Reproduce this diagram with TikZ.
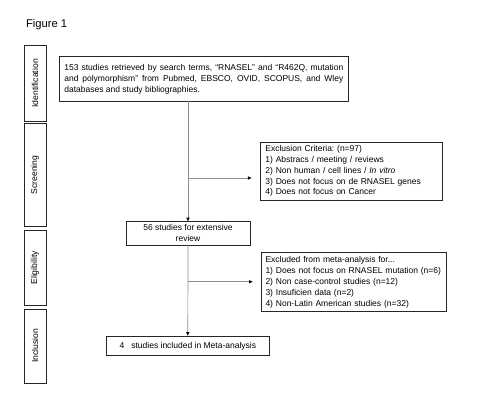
\documentclass[tikz,border=0pt]{standalone}
\usepackage{fontspec}
\setmainfont{Liberation Sans}
\usetikzlibrary{arrows.meta}
\frenchspacing
\begin{document}
\begin{tikzpicture}[x=1pt,y=-1pt,
  every node/.style={inner sep=0pt,outer sep=0pt},
  flowbox/.style={draw=black!85,line width=0.8pt,font=\fontsize{8.5}{10.8}\selectfont},
  sidebox/.style={draw=black!85,line width=0.8pt,minimum height=22pt,font=\fontsize{8.6}{10.8}\selectfont,rotate=90},
  conn/.style={draw=black!45,line width=0.7pt,-{Latex[length=4pt,width=3.6pt,color=black]}}]
\useasboundingbox (0,0) rectangle (500,400);
\node[anchor=west,font=\fontsize{11.2}{13}\selectfont] (fig) at (26,25) {Figure 1};
% side labels
\node[sidebox,minimum width=75.5pt] at (35,83.3) (sid) {Identification};
\node[sidebox,minimum width=103pt] at (35,175) (sscr) {Screening};
\node[sidebox,minimum width=74.3pt] at (35,267.9) (selg) {Eligibility};
\node[sidebox,minimum width=74pt] at (35,346) (sinc) {Inclusion};
% main boxes
\node[flowbox,text width=279pt,inner xsep=5pt,minimum height=44.5pt,align=justify] (b1) at (203.8,79)
  {153 studies retrieved by search terms, “RNASEL” and “R462Q, mutation and polymorphism” from Pubmed, EBSCO, OVID, SCOPUS, and Wley databases and study bibliographies.};
\node[flowbox,text width=172pt,inner xsep=5pt,minimum height=58pt,align=left] (ex) at (351.4,171)
  {Exclusion Criteria: (n=97)\\1) Abstracs / meeting / reviews\\2) Non human / cell lines / \textit{In vitro}\\3) Does not focus on de RNASEL genes\\4) Does not focus on Cancer};
\node[flowbox,minimum width=124pt,minimum height=23.3pt,align=center] (b56) at (188,233.3)
  {56 studies for extensive\\review};
\node[flowbox,text width=176pt,inner xsep=4.5pt,minimum height=59pt,align=left] (exm) at (353.5,282.2)
  {Excluded from meta-analysis for...\\1) Does not focus on RNASEL mutation (n=6)\\2) Non case-control studies (n=12)\\3) Insuficien data (n=2)\\4) Non-Latin American studies (n=32)};
\node[flowbox,minimum width=163.7pt,minimum height=19.7pt] (b4) at (187.8,345.9)
  {4\ \ \ studies included in Meta-analysis};
% connectors
\draw[conn] (b56.north |- b1.south) -- (b56.north);
\coordinate (a1) at (188,178);
\draw[conn,shorten >=8.5pt] (a1) -- (a1 -| ex.west);
\draw[conn] (b56.south) -- (b4.north);
\coordinate (a2) at (188,281.7);
\draw[conn,shorten >=8pt] (a2) -- (a2 -| exm.west);
\end{tikzpicture}
\end{document}
